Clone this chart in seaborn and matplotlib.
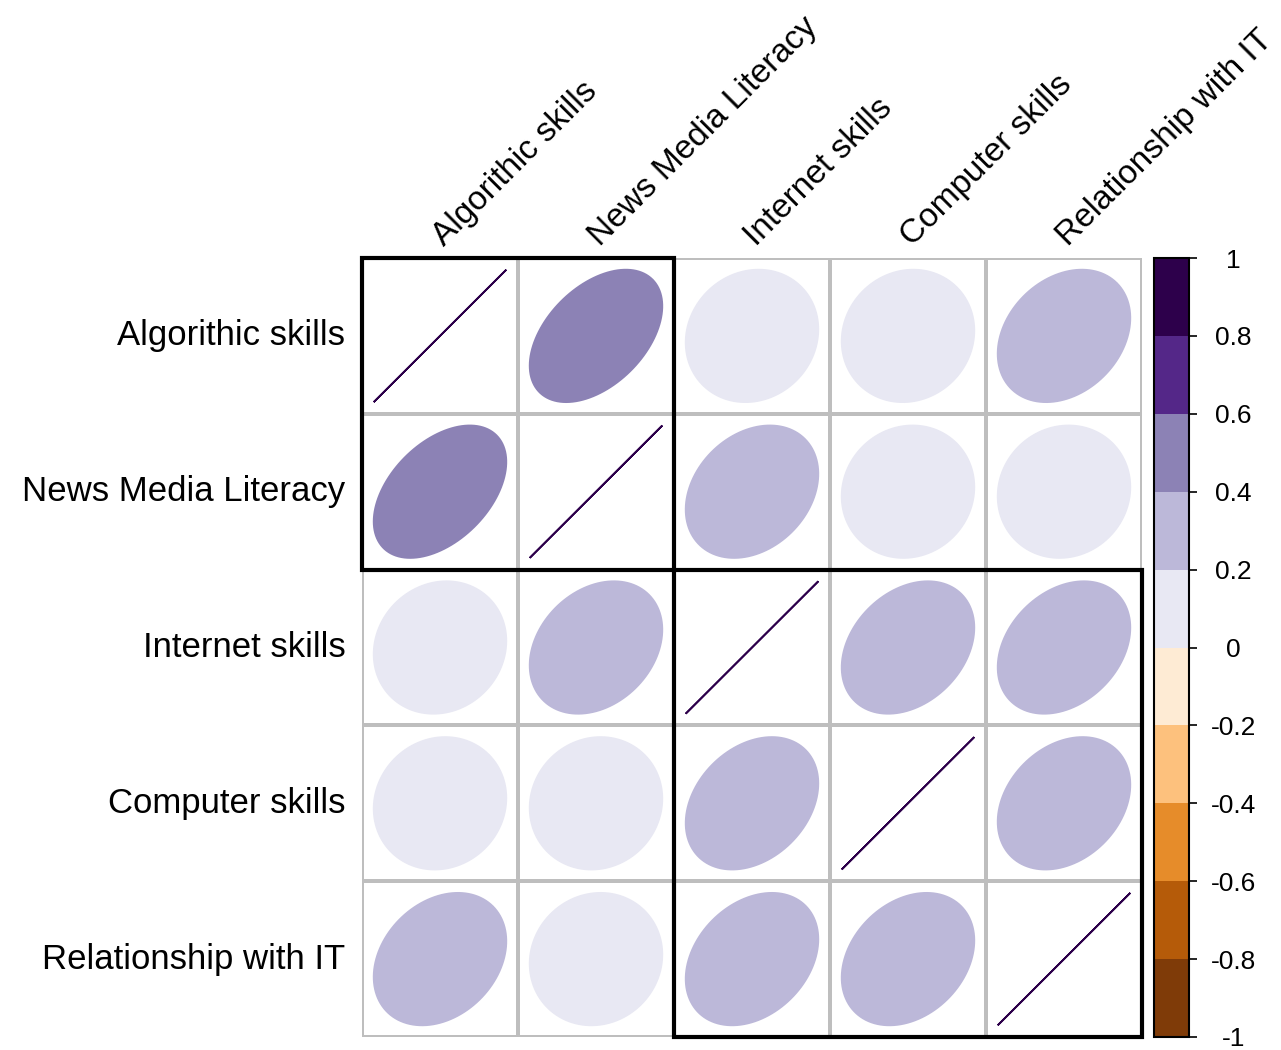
import matplotlib.pyplot as plt
import matplotlib as mpl
import numpy as np
import pandas as pd
import seaborn as sns
from matplotlib.patches import Polygon, Rectangle
from matplotlib.transforms import ScaledTranslation

# labels as spelled in the original figure
variables = ["Algorithic skills", "News Media Literacy", "Internet skills",
             "Computer skills", "Relationship with IT"]

row_algo = [1.00, 0.45, 0.10, 0.08, 0.27]
row_news = [0.45, 1.00, 0.27, 0.07, 0.07]
row_inet = [0.10, 0.27, 1.00, 0.30, 0.30]
row_comp = [0.08, 0.07, 0.30, 1.00, 0.28]
row_rel = [0.27, 0.07, 0.30, 0.28, 1.00]

# hclust rectangles (first index, size)
clusters = [(0, 2), (2, 3)]

bin_colours = ['#7F3B08', '#B55B09', '#E68C2A', '#FDC17D', '#FEEBD4',
               '#E8E8F3', '#BCB8D9', '#8C82B5', '#542788', '#2D004B']
cbar_ticks = [-1, -0.8, -0.6, -0.4, -0.2, 0, 0.2, 0.4, 0.6, 0.8, 1]

corr = pd.DataFrame([row_algo, row_news, row_inet, row_comp, row_rel],
                    index=variables, columns=variables)

sns.set_style('white')
plt.rcParams['font.family'] = ['Liberation Sans', 'DejaVu Sans']
plt.rcParams['text.color'] = 'black'
plt.rcParams['xtick.color'] = 'black'
plt.rcParams['ytick.color'] = 'black'

cmap = mpl.colors.ListedColormap(bin_colours)
norm = mpl.colors.BoundaryNorm(np.linspace(-1, 1, 11), cmap.N)

W, H = 1281, 1050
fig = plt.figure(figsize=(W / 100, H / 100), dpi=100)
ax = fig.add_axes([362 / W, 13 / H, 780 / W, 779 / H])
cax = fig.add_axes([1154 / W, 13 / H, 35 / W, 779 / H])

# white cells with grey grid
sns.heatmap(np.zeros(corr.shape), ax=ax, cmap=mpl.colors.ListedColormap(['white']),
            cbar=False, linewidths=1.5, linecolor='#BEBEBE',
            xticklabels=variables, yticklabels=variables)

# ellipses (corrplot style)
scale = 0.85
t = np.linspace(0, 2 * np.pi, 120)
n = len(variables)
for i in range(n):
    for j in range(n):
        r = corr.iloc[i, j]
        d = np.arccos(np.clip(r, -1, 1))
        dx = scale * np.cos(t + d / 2) / 2
        dy = scale * np.cos(t - d / 2) / 2
        col = cmap(norm(r))
        pts = np.column_stack([j + 0.5 + dx, i + 0.5 - dy])
        ax.add_patch(Polygon(pts, closed=True, facecolor=col, edgecolor=col,
                             linewidth=1.3, zorder=3))

for start, size in clusters:
    ax.add_patch(Rectangle((start, start), size, size, fill=False,
                           edgecolor='black', linewidth=3, zorder=5, clip_on=False))

ax.set_xlim(0, n)
ax.set_ylim(n, 0)
for s in ax.spines.values():
    s.set_visible(False)

ax.xaxis.tick_top()
ax.tick_params(axis='both', length=0)
ax.set_xticklabels(variables, rotation=45, ha='left', va='bottom',
                   rotation_mode='anchor', fontsize=24, color='black')
ax.tick_params(axis='x', pad=4)
shift = ScaledTranslation(9 / 100, 0, fig.dpi_scale_trans)
for lab in ax.get_xticklabels():
    lab.set_transform(lab.get_transform() + shift)
ax.set_yticklabels(variables, rotation=0, fontsize=25, color='black')
ax.tick_params(axis='y', pad=12)
ax.set_xlabel('')
ax.set_ylabel('')

cb = fig.colorbar(mpl.cm.ScalarMappable(norm=norm, cmap=cmap), cax=cax,
                  ticks=cbar_ticks)
cb.ax.set_yticklabels([f'{v:g}' for v in cbar_ticks], fontsize=19,
                      ha='center', color='black')
cb.ax.tick_params(length=6, width=1.2, color='black', pad=26)
cb.outline.set_edgecolor('black')
cb.outline.set_linewidth(1.5)

fig.savefig('out.png', dpi=100)
